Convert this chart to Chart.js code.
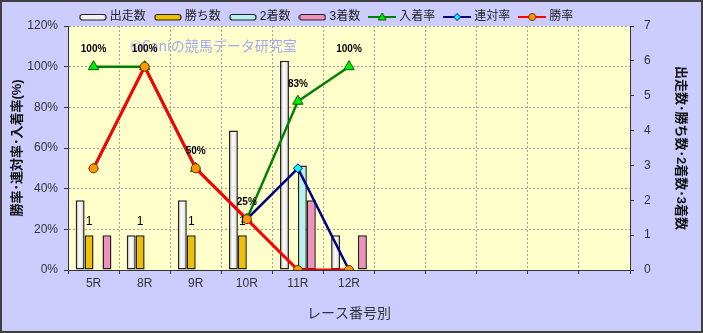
<!DOCTYPE html>
<html>
<head>
<meta charset="utf-8">
<script src="https://cdn.jsdelivr.net/npm/chart.js@4.4.1/dist/chart.umd.min.js"></script>
<style>
  html, body { margin: 0; padding: 0; background: #fff; }
</style>
</head>
<body>
<canvas id="raceChart" width="703" height="333"></canvas>
<script>
// race numbers (the chart keeps empty slots on the right)
const races = ['5R', '8R', '9R', '10R', '11R', '12R', '', '', '', '', ''];

// counts (right axis)
const starters = [2, 1, 2, 4, 6, 1];
const wins     = [1, 1, 1, 1, 0, 0];
const seconds  = [0, 0, 0, 0, 3, 0];
const thirds   = [1, 0, 0, 0, 2, 1];

// rates in % (left axis)
const placeRate    = [100, 100, 50, 25, 83, 100];
const quinellaRate = [50, 100, 50, 25, 50, 0];
const winRate      = [50, 100, 50, 25, 0, 0];

const rateTicks  = [0, 20, 40, 60, 80, 100, 120];
const countTicks = [0, 1, 2, 3, 4, 5, 6, 7];

const JP = '"Liberation Sans", "Noto Sans CJK JP", sans-serif';
Chart.defaults.font.family = JP;
Chart.defaults.color = '#333';

function barIcon(fill) {
    const c = document.createElement('canvas');
    c.width = 28; c.height = 10;
    const g = c.getContext('2d');
    g.fillStyle = fill;
    g.strokeStyle = '#222';
    g.lineWidth = 1.2;
    g.beginPath();
    g.roundRect(1, 2.5, 26, 5.5, 2.5);
    g.fill();
    g.stroke();
    return c;
}

function lineIcon(color, marker, fill, stroke) {
    const c = document.createElement('canvas');
    c.width = 28; c.height = 10;
    const g = c.getContext('2d');
    g.strokeStyle = color;
    g.lineWidth = 2;
    g.beginPath();
    g.moveTo(0, 5); g.lineTo(28, 5);
    g.stroke();
    g.fillStyle = fill;
    g.strokeStyle = stroke;
    g.lineWidth = 1;
    g.beginPath();
    if (marker === 'triangle') {
        g.moveTo(14, 1); g.lineTo(18, 8); g.lineTo(10, 8); g.closePath();
    } else if (marker === 'rectRot') {
        g.moveTo(14, 1.5); g.lineTo(17.5, 5); g.lineTo(14, 8.5); g.lineTo(10.5, 5); g.closePath();
    } else {
        g.arc(14, 5, 3.5, 0, Math.PI * 2);
    }
    g.fill();
    g.stroke();
    return c;
}

const icons = [
    barIcon('#f2f2f2'),
    barIcon('#f0c000'),
    barIcon('#b8f0f0'),
    barIcon('#f090c0'),
    lineIcon('#008000', 'triangle', '#00ee00', '#006000'),
    lineIcon('#000080', 'rectRot', '#00ffff', '#000080'),
    lineIcon('#ff0000', 'circle', '#ff9900', '#663300')
];

// white bars have a rounded, cylinder-like shading
function whiteShade(context) {
    const el = context.element;
    if (!el || !isFinite(el.x) || !el.width) return '#f2f2f2';
    const g = context.chart.ctx.createLinearGradient(el.x - el.width / 2, 0, el.x + el.width / 2, 0);
    g.addColorStop(0, '#bdbdbd');
    g.addColorStop(0.45, '#ffffff');
    g.addColorStop(1, '#d0d0d0');
    return g;
}

const backdrop = {
    id: 'backdrop',
    afterLayout(chart) {
        // the legend in the original sits a bit left of centre
        chart.legend.right -= 48;
    },
    beforeDraw(chart) {
        const { ctx, chartArea: a, width, height } = chart;
        ctx.save();
        ctx.fillStyle = '#ccccff';
        ctx.fillRect(0, 0, width, height);
        ctx.fillStyle = '#ffffcc';
        ctx.fillRect(a.left, a.top, a.right - a.left, a.bottom - a.top);
        ctx.strokeStyle = '#404040';
        ctx.lineWidth = 2;
        ctx.strokeRect(1, 1, width - 2, height - 2);
        ctx.restore();
    },
    beforeDatasetsDraw(chart) {
        const ctx = chart.ctx;
        ctx.save();
        ctx.font = '14px "Noto Sans CJK JP", sans-serif';
        ctx.fillStyle = '#a4aaf4';
        ctx.textBaseline = 'middle';
        ctx.fillText('©Caniの競馬データ研究室', 130, 46);
        ctx.restore();
    }
};

const valueLabels = {
    id: 'valueLabels',
    afterDatasetsDraw(chart) {
        const ctx = chart.ctx;
        ctx.save();
        ctx.fillStyle = '#000';
        ctx.textAlign = 'center';
        ctx.textBaseline = 'middle';
        // win counts above the yellow bars
        ctx.font = '12px "Liberation Sans", sans-serif';
        chart.getDatasetMeta(1).data.forEach((bar, i) => {
            if (wins[i] > 0) ctx.fillText(String(wins[i]), bar.x, bar.y - 13);
        });
        // place rate above the triangles
        ctx.font = 'bold 10px "Liberation Sans", sans-serif';
        chart.getDatasetMeta(4).data.forEach((pt, i) => {
            if (placeRate[i] != null) ctx.fillText(placeRate[i] + '%', pt.x, pt.y - 17);
        });
        ctx.restore();
    }
};

const gridDots = { color: '#a0a0a0', tickBorderDash: [], tickColor: '#333', tickLength: 4 };
const axisLine = { color: '#333', width: 1, dash: [2, 2] };

const chart = new Chart(document.getElementById('raceChart').getContext('2d'), {
    data: {
        labels: races,
        datasets: [
            { type: 'bar', label: '出走数', data: starters, yAxisID: 'y1', order: 4,
              backgroundColor: whiteShade, borderColor: '#222', borderWidth: 1.5, borderSkipped: false },
            { type: 'bar', label: '勝ち数', data: wins, yAxisID: 'y1', order: 4,
              backgroundColor: '#f0c000', borderColor: '#222', borderWidth: 1.5, borderSkipped: false },
            { type: 'bar', label: '2着数', data: seconds, yAxisID: 'y1', order: 4,
              backgroundColor: '#b8f0f0', borderColor: '#222', borderWidth: 1.5, borderSkipped: false },
            { type: 'bar', label: '3着数', data: thirds, yAxisID: 'y1', order: 4,
              backgroundColor: '#f090c0', borderColor: '#222', borderWidth: 1.5, borderSkipped: false },
            { type: 'line', label: '入着率', data: placeRate, yAxisID: 'y', order: 3,
              borderColor: '#008000', borderWidth: 2.5, pointStyle: 'triangle', pointRadius: 6,
              pointBackgroundColor: '#00ee00', pointBorderColor: '#006000', pointBorderWidth: 1, tension: 0 },
            { type: 'line', label: '連対率', data: quinellaRate, yAxisID: 'y', order: 2,
              borderColor: '#000080', borderWidth: 2.5, pointStyle: 'rectRot', pointRadius: 4.5,
              pointBackgroundColor: '#00ffff', pointBorderColor: '#000080', pointBorderWidth: 1, tension: 0 },
            { type: 'line', label: '勝率', data: winRate, yAxisID: 'y', order: 1,
              borderColor: '#ff0000', borderWidth: 3, pointStyle: 'circle', pointRadius: 4.5,
              pointBackgroundColor: '#ff9900', pointBorderColor: '#663300', pointBorderWidth: 1, tension: 0 }
        ]
    },
    options: {
        responsive: false,
        animation: false,
        devicePixelRatio: 1,
        layout: { padding: 0 },
        datasets: { bar: { categoryPercentage: 0.7, barPercentage: 1.0 } },
        plugins: {
            tooltip: { enabled: false },
            legend: {
                position: 'top',
                maxHeight: 26,
                labels: {
                    usePointStyle: true,
                    pointStyleWidth: 22,
                    padding: 11,
                    color: '#222',
                    font: { size: 12, family: JP },
                    generateLabels: chart => chart.data.datasets.map((ds, i) => ({
                        text: ds.label, pointStyle: icons[i], datasetIndex: i,
                        hidden: false, fontColor: '#222', lineWidth: 0,
                        fillStyle: 'transparent', strokeStyle: 'transparent'
                    }))
                }
            }
        },
        scales: {
            x: {
                grid: { ...gridDots, offset: true },
                border: axisLine,
                ticks: { padding: 2, font: { size: 12 }, color: '#333', maxRotation: 0, autoSkip: false },
                title: { display: true, text: 'レース番号別', color: '#333', font: { size: 14, family: JP }, padding: { top: 0, bottom: 10 } },
                afterFit: s => { s.height = 63; }
            },
            y: {
                position: 'left',
                min: rateTicks[0], max: rateTicks[rateTicks.length - 1],
                grid: gridDots,
                border: axisLine,
                afterBuildTicks: s => { s.ticks = rateTicks.map(v => ({ value: v })); },
                ticks: { padding: 6, font: { size: 12 }, color: '#333', callback: v => v + '%' },
                title: { display: true, text: '勝率･連対率･入着率(%)', color: '#111', font: { size: 13, weight: 'bold', family: JP }, padding: { top: 10, bottom: 0 } },
                afterFit: s => { s.width = 68; }
            },
            y1: {
                position: 'right',
                min: countTicks[0], max: countTicks[countTicks.length - 1],
                grid: { ...gridDots, drawOnChartArea: false },
                border: axisLine,
                afterBuildTicks: s => { s.ticks = countTicks.map(v => ({ value: v })); },
                ticks: { padding: 10, font: { size: 12 }, color: '#333' },
                title: { display: true, text: '出走数･勝ち数･2着数･3着数', color: '#111', font: { size: 13, weight: 'bold', family: JP }, padding: { top: 15, bottom: 0 } },
                afterFit: s => { s.width = 73; }
            }
        }
    },
    plugins: [backdrop, valueLabels]
});
// second pass so the shaded bars know their positions
chart.update();
</script>
</body>
</html>
